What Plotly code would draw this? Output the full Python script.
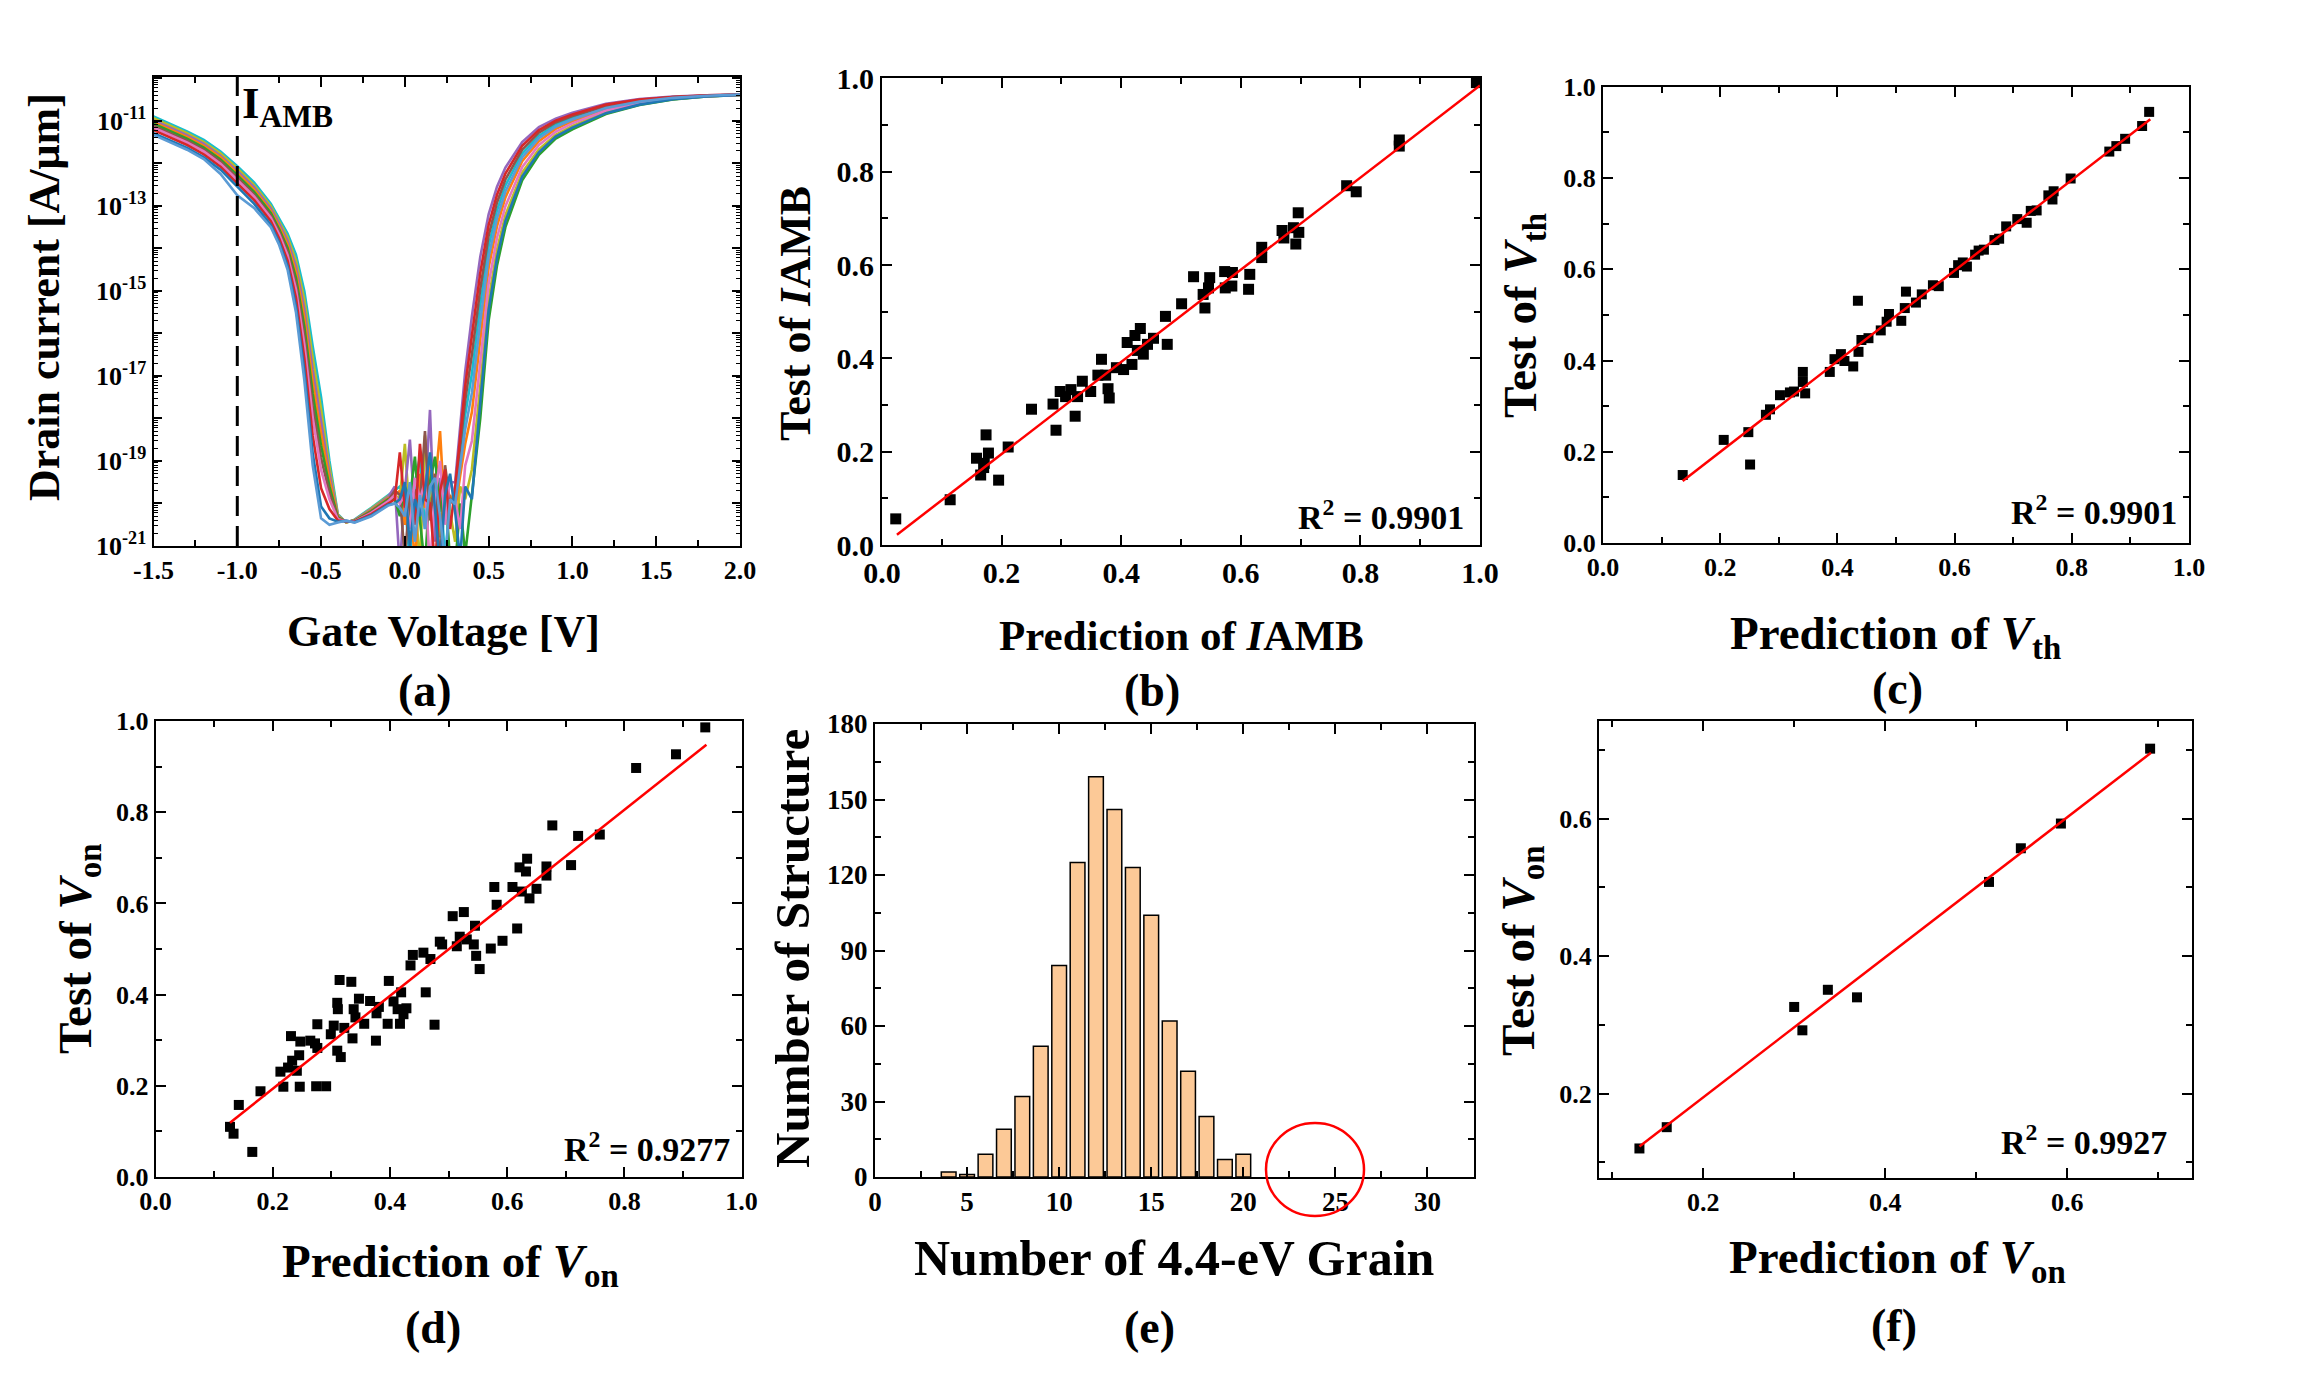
import plotly.graph_objects as go

W, H = 2315, 1377
FONT = "Liberation Serif, Times New Roman, serif"

# ---------------- (a) transfer curves: gate voltage [V] and log10(drain current) ----------------
VG = [-1.5, -1.4, -1.3, -1.2, -1.1, -1.0, -0.9, -0.8, -0.75, -0.7, -0.65, -0.6, -0.55, -0.5, -0.45,
      -0.4, -0.35, -0.3, -0.2, -0.1,
      -0.06, -0.03, 0.0, 0.03, 0.06, 0.09, 0.12, 0.15, 0.18, 0.21, 0.24, 0.27,
      0.3, 0.33, 0.36, 0.4, 0.45, 0.5, 0.55, 0.6, 0.7, 0.8, 0.9, 1.0, 1.2, 1.4, 1.6, 1.8, 2.0]

LOG_ID_0 = [-10.90, -11.07, -11.25, -11.45, -11.72, -12.07, -12.45, -12.95, -13.30, -13.65, -14.15, -15.00, -16.30, -17.50, -19.00, -20.25, -20.45, -20.38, -20.10, -19.80,
            -19.7, -19.6, -19.9, -21.4, -19.5, -18.9, -20.6, -19.2, -20.3, -19.6, -21.3, -19.9,
            -19.89, -18.89, -17.92, -16.95, -15.34, -13.95, -13.11, -12.52, -11.77, -11.35, -11.09, -10.93, -10.67, -10.53, -10.45, -10.41, -10.38]
LOG_ID_1 = [-10.94, -11.11, -11.29, -11.50, -11.77, -12.12, -12.51, -13.01, -13.36, -13.74, -14.29, -15.21, -16.58, -17.79, -19.15, -20.27, -20.45, -20.39, -20.12, -19.83,
            -19.8, -19.9, -18.6, -20.4, -19.8, -21.5, -18.4, -20.1, -19.5, -20.8, -19.3, -20.2,
            -20.9, -19.6, -19.9, -19.2, -17.24, -15.20, -14.03, -13.22, -12.22, -11.67, -11.33, -11.12, -10.79, -10.60, -10.49, -10.42, -10.39]
LOG_ID_2 = [-10.99, -11.16, -11.34, -11.54, -11.82, -12.18, -12.56, -13.06, -13.42, -13.82, -14.42, -15.42, -16.86, -18.07, -19.30, -20.29, -20.44, -20.39, -20.14, -19.85,
            -19.6, -21.5, -19.7, -18.5, -20.2, -19.6, -19.9, -17.8, -20.9, -19.4, -20.0, -19.5,
            -19.50, -18.20, -16.90, -15.60, -14.20, -13.20, -12.55, -12.10, -11.50, -11.15, -10.95, -10.81, -10.60, -10.49, -10.43, -10.40, -10.38]
LOG_ID_3 = [-11.03, -11.20, -11.38, -11.59, -11.86, -12.23, -12.62, -13.12, -13.49, -13.91, -14.56, -15.63, -17.14, -18.36, -19.45, -20.31, -20.44, -20.40, -20.16, -19.88,
            -19.8, -19.7, -20.5, -19.6, -21.5, -19.3, -20.1, -19.0, -19.6, -18.3, -20.4, -19.8,
            -20.15, -19.35, -18.60, -17.85, -16.10, -14.45, -13.48, -12.80, -11.95, -11.48, -11.19, -11.01, -10.72, -10.56, -10.47, -10.42, -10.39]
LOG_ID_4 = [-11.07, -11.24, -11.42, -11.63, -11.91, -12.28, -12.67, -13.17, -13.55, -13.99, -14.69, -15.84, -17.42, -18.64, -19.60, -20.33, -20.43, -20.41, -20.18, -19.90,
            -19.9, -20.3, -19.6, -19.9, -18.9, -20.4, -21.5, -19.5, -18.9, -20.2, -19.5, -21.4,
            -21.5, -20.0, -21.2, -19.8, -18.00, -15.70, -14.40, -13.50, -12.40, -11.80, -11.42, -11.20, -10.84, -10.63, -10.50, -10.43, -10.39]
LOG_ID_5 = [-11.12, -11.29, -11.47, -11.68, -11.96, -12.34, -12.73, -13.23, -13.61, -14.08, -14.83, -16.05, -17.70, -18.93, -19.75, -20.35, -20.43, -20.42, -20.20, -19.93,
            -19.7, -19.8, -21.3, -19.8, -19.7, -20.0, -18.3, -20.4, -19.3, -21.5, -19.1, -20.0,
            -19.76, -18.66, -17.58, -16.50, -14.96, -13.70, -12.92, -12.38, -11.68, -11.28, -11.04, -10.89, -10.65, -10.52, -10.44, -10.41, -10.38]
LOG_ID_6 = [-11.16, -11.33, -11.51, -11.72, -12.01, -12.39, -12.78, -13.28, -13.67, -14.16, -14.96, -16.26, -17.98, -19.21, -19.90, -20.37, -20.42, -20.42, -20.22, -19.95,
            -19.8, -20.0, -19.8, -20.6, -19.4, -19.9, -19.5, -21.5, -19.8, -19.0, -20.5, -19.4,
            -19.9, -20.6, -19.11, -18.53, -16.67, -14.83, -13.75, -13.01, -12.09, -11.57, -11.26, -11.06, -10.76, -10.58, -10.48, -10.42, -10.39]
LOG_ID_7 = [-11.22, -11.39, -11.57, -11.79, -12.08, -12.47, -12.86, -13.36, -13.77, -14.29, -15.16, -16.58, -18.40, -19.64, -20.13, -20.40, -20.41, -20.43, -20.25, -19.99,
            -19.9, -18.8, -20.1, -19.7, -20.5, -18.6, -19.9, -20.0, -21.5, -19.7, -19.2, -20.6,
            -19.63, -18.43, -17.24, -16.05, -14.58, -13.45, -12.74, -12.24, -11.59, -11.22, -11.00, -10.85, -10.62, -10.50, -10.44, -10.40, -10.38]
LOG_ID_8 = [-11.29, -11.46, -11.64, -11.86, -12.15, -12.55, -12.95, -13.45, -13.86, -14.42, -15.37, -16.89, -18.82, -20.07, -20.35, -20.43, -20.41, -20.44, -20.28, -20.03,
            -20.0, -19.9, -19.5, -21.0, -19.9, -20.3, -19.7, -18.8, -20.1, -21.5, -19.8, -19.3,
            -20.2, -21.3, -19.6, -19.9, -17.62, -15.45, -14.22, -13.36, -12.31, -11.74, -11.37, -11.16, -10.82, -10.62, -10.49, -10.43, -10.39]
LOG_ID_9 = [-11.33, -11.50, -11.68, -11.90, -12.25, -12.75, -13.05, -13.50, -13.92, -14.50, -15.50, -17.10, -19.10, -20.35, -20.50, -20.45, -20.40, -20.45, -20.30, -20.05,
            -20.0, -20.1, -20.3, -19.5, -20.9, -19.8, -20.6, -19.6, -19.4, -20.3, -21.4, -19.9,
            -20.02, -19.12, -18.26, -17.40, -15.72, -14.20, -13.29, -12.66, -11.86, -11.41, -11.14, -10.97, -10.70, -10.55, -10.46, -10.41, -10.38]
CURVES = [LOG_ID_0, LOG_ID_1, LOG_ID_2, LOG_ID_3, LOG_ID_4, LOG_ID_5, LOG_ID_6, LOG_ID_7, LOG_ID_8, LOG_ID_9]
CURVE_COLORS = ["#17becf", "#bcbd22", "#9467bd", "#ff7f0e", "#2ca02c", "#8c564b",
                "#e377c2", "#d62728", "#1f77b4", "#5b9bd5"]
V_AMB = -1.0

A_XTICKS = [-1.5, -1.0, -0.5, 0.0, 0.5, 1.0, 1.5, 2.0]
A_XTICKTEXT = ["-1.5", "-1.0", "-0.5", "0.0", "0.5", "1.0", "1.5", "2.0"]
A_YEXP = [-21, -20, -19, -18, -17, -16, -15, -14, -13, -12, -11, -10]
A_YTICKTEXT = ["10<sup>-21</sup>", "", "10<sup>-19</sup>", "", "10<sup>-17</sup>", "",
               "10<sup>-15</sup>", "", "10<sup>-13</sup>", "", "10<sup>-11</sup>", ""]

# ---------------- (b) I_AMB prediction vs test ----------------
B_PRED = [0.023, 0.114, 0.158, 0.165, 0.174, 0.171, 0.178, 0.170, 0.195, 0.211, 0.250, 0.286, 0.291,
          0.298, 0.307, 0.316, 0.323, 0.327, 0.335, 0.349, 0.361, 0.367, 0.374, 0.378, 0.380, 0.392,
          0.404, 0.410, 0.418, 0.423, 0.432, 0.427, 0.437, 0.444, 0.454, 0.474, 0.477, 0.501, 0.521,
          0.537, 0.540, 0.548, 0.546, 0.573, 0.574, 0.586, 0.585, 0.613, 0.615, 0.635, 0.635, 0.669,
          0.672, 0.688, 0.692, 0.696, 0.697, 0.777, 0.793, 0.865, 0.865, 0.994]
B_TEST = [0.056, 0.097, 0.186, 0.150, 0.236, 0.175, 0.197, 0.166, 0.139, 0.210, 0.291, 0.302, 0.246,
          0.329, 0.318, 0.333, 0.276, 0.318, 0.351, 0.329, 0.364, 0.398, 0.364, 0.335, 0.315, 0.380,
          0.376, 0.434, 0.387, 0.449, 0.464, 0.417, 0.409, 0.430, 0.443, 0.490, 0.430, 0.517, 0.575,
          0.537, 0.508, 0.573, 0.551, 0.586, 0.551, 0.584, 0.555, 0.548, 0.580, 0.638, 0.616, 0.674,
          0.658, 0.680, 0.645, 0.712, 0.670, 0.770, 0.757, 0.868, 0.855, 0.991]
B_FIT_X = [0.025, 1.0]
B_FIT_Y = [0.022, 0.985]
B_R2 = "0.9901"

# ---------------- (c) V_th prediction vs test ----------------
C_PRED = [0.136, 0.206, 0.248, 0.251, 0.278, 0.285, 0.302, 0.319, 0.326, 0.341, 0.341, 0.345, 0.387,
          0.395, 0.406, 0.412, 0.427, 0.435, 0.436, 0.441, 0.453, 0.474, 0.484, 0.488, 0.509, 0.515,
          0.517, 0.534, 0.544, 0.563, 0.573, 0.599, 0.606, 0.614, 0.621, 0.635, 0.641, 0.650, 0.668,
          0.676, 0.688, 0.707, 0.723, 0.730, 0.740, 0.760, 0.767, 0.769, 0.798, 0.864, 0.876, 0.891,
          0.920, 0.932]
C_TEST = [0.149, 0.226, 0.243, 0.172, 0.281, 0.293, 0.324, 0.330, 0.332, 0.375, 0.353, 0.328, 0.375,
          0.403, 0.414, 0.399, 0.387, 0.531, 0.419, 0.445, 0.449, 0.466, 0.485, 0.502, 0.487, 0.515,
          0.551, 0.527, 0.545, 0.565, 0.563, 0.592, 0.609, 0.615, 0.606, 0.632, 0.641, 0.643, 0.664,
          0.667, 0.694, 0.710, 0.702, 0.728, 0.729, 0.762, 0.753, 0.771, 0.799, 0.858, 0.870, 0.886,
          0.914, 0.945]
C_FIT_X = [0.136, 0.934]
C_FIT_Y = [0.136, 0.929]
C_R2 = "0.9901"

# ---------------- (d) V_on prediction vs test ----------------
D_PRED = [0.127, 0.133, 0.142, 0.165, 0.179, 0.213, 0.218, 0.226, 0.231, 0.233, 0.241, 0.245, 0.246,
          0.247, 0.264, 0.272, 0.274, 0.276, 0.276, 0.291, 0.299, 0.304, 0.310, 0.311, 0.310, 0.314,
          0.316, 0.322, 0.334, 0.336, 0.338, 0.341, 0.347, 0.356, 0.366, 0.376, 0.377, 0.381, 0.396,
          0.398, 0.406, 0.413, 0.417, 0.419, 0.423, 0.428, 0.435, 0.439, 0.457, 0.461, 0.469, 0.476,
          0.485, 0.489, 0.507, 0.514, 0.519, 0.526, 0.531, 0.543, 0.545, 0.547, 0.553, 0.572, 0.578,
          0.582, 0.592, 0.609, 0.617, 0.621, 0.625, 0.632, 0.634, 0.638, 0.650, 0.667, 0.667, 0.677,
          0.709, 0.721, 0.758, 0.820, 0.888, 0.938]
D_TEST = [0.110, 0.095, 0.158, 0.055, 0.188, 0.231, 0.198, 0.240, 0.309, 0.255, 0.233, 0.267, 0.198,
          0.297, 0.299, 0.293, 0.199, 0.335, 0.283, 0.199, 0.313, 0.332, 0.382, 0.368, 0.277, 0.432,
          0.263, 0.327, 0.428, 0.304, 0.368, 0.350, 0.391, 0.336, 0.386, 0.299, 0.359, 0.373, 0.336,
          0.430, 0.385, 0.368, 0.336, 0.405, 0.357, 0.370, 0.464, 0.487, 0.492, 0.405, 0.478, 0.334,
          0.516, 0.510, 0.572, 0.506, 0.527, 0.581, 0.521, 0.510, 0.551, 0.485, 0.456, 0.501, 0.636,
          0.597, 0.518, 0.636, 0.545, 0.679, 0.626, 0.670, 0.698, 0.611, 0.632, 0.681, 0.661, 0.771,
          0.684, 0.748, 0.751, 0.897, 0.927, 0.986]
D_FIT_X = [0.127, 0.940]
D_FIT_Y = [0.119, 0.948]
D_R2 = "0.9277"

# ---------------- (e) histogram of 4.4-eV grain count ----------------
E_GRAINS = [4, 5, 6, 7, 8, 9, 10, 11, 12, 13, 14, 15, 16, 17, 18, 19, 20]
E_COUNTS = [2, 1, 9, 19, 32, 52, 84, 125, 159, 146, 123, 104, 62, 42, 24, 7, 9]

# ---------------- (f) V_on prediction vs test (second set) ----------------
F_PRED = [0.130, 0.160, 0.300, 0.309, 0.337, 0.369, 0.514, 0.549, 0.593, 0.691]
F_TEST = [0.120, 0.151, 0.326, 0.292, 0.351, 0.340, 0.508, 0.557, 0.593, 0.702]
F_FIT_X = [0.130, 0.692]
F_FIT_Y = [0.123, 0.696]
F_R2 = "0.9927"

# =====================================================================================
fig = go.Figure()

for curve, col in zip(CURVES, CURVE_COLORS):
    fig.add_trace(go.Scatter(x=VG, y=[10 ** v for v in curve], mode="lines",
                             line=dict(color=col, width=2.6), xaxis="x", yaxis="y",
                             hoverinfo="skip", showlegend=False))


def scatter_panel(ax, px, ty, fx, fy, msize):
    fig.add_trace(go.Scatter(x=px, y=ty, mode="markers", cliponaxis=False,
                             marker=dict(symbol="square", size=msize, color="black", line=dict(width=0)),
                             xaxis="x" + ax, yaxis="y" + ax, showlegend=False))
    fig.add_trace(go.Scatter(x=fx, y=fy, mode="lines", line=dict(color="#ff0000", width=2.5),
                             xaxis="x" + ax, yaxis="y" + ax, showlegend=False))


scatter_panel("2", B_PRED, B_TEST, B_FIT_X, B_FIT_Y, 11)
scatter_panel("3", C_PRED, C_TEST, C_FIT_X, C_FIT_Y, 10)
scatter_panel("4", D_PRED, D_TEST, D_FIT_X, D_FIT_Y, 10)
fig.add_trace(go.Bar(x=E_GRAINS, y=E_COUNTS, width=0.8, xaxis="x5", yaxis="y5",
                     marker=dict(color="#fcc997", line=dict(color="black", width=1.5)),
                     showlegend=False))
scatter_panel("6", F_PRED, F_TEST, F_FIT_X, F_FIT_Y, 10)


def px_dom(a, b, total):
    return [a / total, b / total]


def py_dom(top, bottom):
    return [1 - bottom / H, 1 - top / H]


def axis(domain, anchor, rng, tsize, **kw):
    d = dict(domain=domain, anchor=anchor, range=rng, showline=True, linecolor="black", linewidth=2,
             mirror="allticks", ticks="inside", ticklen=10, tickwidth=2, tickcolor="black",
             showgrid=False, zeroline=False, automargin=False,
             tickfont=dict(family=FONT, size=tsize, color="black", weight="bold"))
    minor = kw.pop("minor", None)
    if minor is not None:
        m = dict(ticks="inside", ticklen=6, tickwidth=1.5, tickcolor="black", showgrid=False)
        m.update(minor)
        d["minor"] = m
    d.update(kw)
    return d


log_minor = [m * 10.0 ** e for e in range(-21, -10) for m in range(2, 10)]

layout = dict(
    width=W, height=H, autosize=False,
    margin=dict(l=0, r=0, t=0, b=0, pad=0, autoexpand=False),
    paper_bgcolor="white", plot_bgcolor="white", showlegend=False,
    font=dict(family=FONT, color="black"),
    xaxis=axis(px_dom(153.5, 740, W), "y", [-1.5, 2.0], 26,
               tickmode="array", tickvals=A_XTICKS, ticktext=A_XTICKTEXT,
               minor=dict(tickmode="array", tickvals=[-1.25, -0.75, -0.25, 0.25, 0.75, 1.25, 1.75])),
    yaxis=axis(py_dom(77, 546), "x", [-21, -9.97], 26, type="log",
               tickmode="array", tickvals=[10.0 ** e for e in A_YEXP], ticktext=A_YTICKTEXT,
               ticklen=8,
               minor=dict(tickmode="array", tickvals=log_minor, ticklen=4, tickwidth=1)),
    xaxis2=axis(px_dom(882, 1480, W), "y2", [0, 1], 30, dtick=0.2, tick0=0, tickformat=".1f",
                minor=dict(dtick=0.1)),
    yaxis2=axis(py_dom(78.4, 545), "x2", [0, 1], 30, dtick=0.2, tick0=0, tickformat=".1f",
                minor=dict(dtick=0.1)),
    xaxis3=axis(px_dom(1603, 2189, W), "y3", [0, 1], 26, dtick=0.2, tick0=0, tickformat=".1f",
                minor=dict(dtick=0.1)),
    yaxis3=axis(py_dom(86.8, 543), "x3", [0, 1], 26, dtick=0.2, tick0=0, tickformat=".1f",
                minor=dict(dtick=0.1)),
    xaxis4=axis(px_dom(155.6, 741.6, W), "y4", [0, 1], 26, dtick=0.2, tick0=0, tickformat=".1f",
                minor=dict(dtick=0.1)),
    yaxis4=axis(py_dom(721, 1177), "x4", [0, 1], 26, dtick=0.2, tick0=0, tickformat=".1f",
                minor=dict(dtick=0.1)),
    xaxis5=axis(px_dom(875, 1473.5, W), "y5", [0, 32.5], 27, dtick=5, tick0=0,
                minor=dict(dtick=2.5)),
    yaxis5=axis(py_dom(724, 1177), "x5", [0, 180], 27, dtick=30, tick0=0,
                minor=dict(dtick=15)),
    xaxis6=axis(px_dom(1599, 2192, W), "y6", [0.0856, 0.737], 26, dtick=0.2, tick0=0, tickformat=".1f",
                minor=dict(dtick=0.1)),
    yaxis6=axis(py_dom(720.5, 1178), "x6", [0.077, 0.743], 26, dtick=0.2, tick0=0, tickformat=".1f",
                minor=dict(dtick=0.1)),
)
fig.update_layout(**layout)


def ann(text, px, py, size, angle=0, xanchor="center", yanchor="middle"):
    return dict(text=text, x=px / W, y=1 - py / H, xref="paper", yref="paper", showarrow=False,
                font=dict(family=FONT, size=size, color="black", weight="bold"),
                textangle=angle, xanchor=xanchor, yanchor=yanchor)


annotations = [
    ann("Gate Voltage [V]", 443, 632, 44),
    ann("Drain current [A/μm]", 44, 297, 44, angle=-90),
    ann("(a)", 425, 690, 46),
    ann("I<sub>AMB</sub>", 240, 106, 45, xanchor="left"),
    ann("Prediction of <i>I</i>AMB", 1181, 635, 43),
    ann("Test of <i>I</i>AMB", 796, 314, 44, angle=-90),
    ann("(b)", 1152, 690, 46),
    ann("R<sup>2</sup> = " + B_R2, 1466, 515, 34, xanchor="right"),
    ann("Prediction of <i>V</i><sub>th</sub>", 1895, 636, 47),
    ann("Test of <i>V</i><sub>th</sub>", 1524, 316, 47, angle=-90),
    ann("(c)", 1897, 688, 46),
    ann("R<sup>2</sup> = " + C_R2, 2179, 510, 34, xanchor="right"),
    ann("Prediction of <i>V</i><sub>on</sub>", 450, 1264, 47),
    ann("Test of <i>V</i><sub>on</sub>", 78, 949, 47, angle=-90),
    ann("(d)", 433, 1327, 46),
    ann("R<sup>2</sup> = " + D_R2, 732, 1147, 34, xanchor="right"),
    ann("Number of 4.4-eV Grain", 1174, 1258, 50),
    ann("Number of Structure", 792, 949, 49, angle=-90),
    ann("(e)", 1149, 1327, 46),
    ann("Prediction of <i>V</i><sub>on</sub>", 1897, 1260, 47),
    ann("Test of <i>V</i><sub>on</sub>", 1522, 951, 47, angle=-90),
    ann("(f)", 1894, 1325, 46),
    ann("R<sup>2</sup> = " + F_R2, 2169, 1140, 34, xanchor="right"),
]
fig.update_layout(annotations=annotations)

shapes = [
    dict(type="line", xref="x", yref="y domain", x0=V_AMB, x1=V_AMB, y0=0, y1=1,
         line=dict(color="black", width=3, dash="20px,10px")),
    dict(type="circle", xref="paper", yref="paper",
         x0=1266 / W, x1=1364 / W, y0=1 - 1216 / H, y1=1 - 1123 / H,
         line=dict(color="#ff0000", width=2.5)),
]
fig.update_layout(shapes=shapes)

fig.write_html("out.html", config={"displayModeBar": False},
               post_script="document.body.style.margin='0';document.body.style.overflow='hidden';")
